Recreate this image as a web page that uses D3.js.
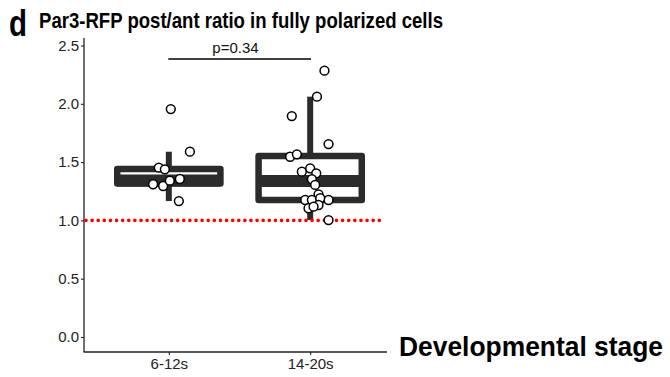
<!DOCTYPE html>
<html><head><meta charset="utf-8">
<script src="https://cdn.jsdelivr.net/npm/d3@7"></script>
<style>body{margin:0;background:#fff}svg{display:block}text{font-family:"Liberation Sans",Arial,sans-serif}</style>
</head><body><svg id="c" width="670" height="377"></svg>
<script>
// ---- data ----
const categories = ["6-12s", "14-20s"];
const yTicks = [0, 0.5, 1.0, 1.5, 2.0, 2.5];
const q1 = [1.316, 1.175];
const medians = [1.342, 1.338];
const q3 = [1.441, 1.552];
const whiskerLow = [1.166, 1.003];
const whiskerHigh = [1.589, 2.061];
const values612 = [1.955, 1.589, 1.452, 1.438, 1.310, 1.295, 1.341, 1.355, 1.166];
const jitter612 = [0.014, 0.149, -0.071, -0.028, -0.111, -0.040, 0.007, 0.078, 0.071];
const values1420 = [2.284, 2.061, 1.895, 1.655, 1.546, 1.567, 1.418, 1.447, 1.404, 1.353, 1.304, 1.224, 1.175, 1.175, 1.175, 1.190, 1.104, 1.132, 1.118, 1.003];
const jitter1420 = [0.101, 0.048, -0.130, 0.130, -0.142, -0.094, -0.059, 0.000, 0.043, 0.012, 0.035, 0.059, -0.035, 0.012, 0.130, 0.071, -0.012, 0.059, 0.024, 0.130];
const refValue = 1.0;
const pLabel = "p=0.34";
const titleText = "Par3-RFP post/ant ratio in fully polarized cells";
const panelLetter = "d";
const xTitle = "Developmental stage";

// ---- chart ----
const svg = d3.select("#c");
const dark = "#2b2b2b";
const y = d3.scaleLinear().domain([0, 2.5]).range([337, 45.5]);
const x = d3.scalePoint().domain(categories).range([84, 395]).padding(0.6);
const step = x.step();
const boxW = 0.73 * step;

// axes
const yAxis = svg.append("g").attr("transform", "translate(84,0)")
  .call(d3.axisLeft(y).tickValues(yTicks).tickFormat(d3.format(".1f")).tickSize(3).tickSizeOuter(0));
yAxis.select(".domain").remove();
yAxis.selectAll(".tick line").attr("stroke", "#222").attr("stroke-width", 1.1);
yAxis.selectAll(".tick text").attr("font-size", 15).attr("fill", "#222").attr("x", -5)
  .style("font-family", "Liberation Sans, Arial, sans-serif");
svg.append("line").attr("x1", 84).attr("x2", 84).attr("y1", 38).attr("y2", 352)
  .attr("stroke", "#222").attr("stroke-width", 1.3);

const xAxis = svg.append("g").attr("transform", "translate(0,352)")
  .call(d3.axisBottom(x).tickSize(3).tickSizeOuter(0));
xAxis.select(".domain").remove();
xAxis.selectAll(".tick line").attr("stroke", "#222").attr("stroke-width", 1.1);
xAxis.selectAll(".tick text").attr("font-size", 15).attr("fill", "#222").attr("y", 6)
  .style("font-family", "Liberation Sans, Arial, sans-serif");
svg.append("line").attr("x1", 83.5).attr("x2", 387).attr("y1", 352).attr("y2", 352)
  .attr("stroke", "#222").attr("stroke-width", 1.3);

// boxplots
const stats = categories.map((c, i) => ({c, q1: q1[i], med: medians[i], q3: q3[i], lo: whiskerLow[i], hi: whiskerHigh[i]}));
const bx = svg.append("g");
stats.forEach(s => {
  const cx = x(s.c);
  bx.append("line").attr("x1", cx).attr("x2", cx).attr("y1", y(s.q3)).attr("y2", y(s.hi))
    .attr("stroke", dark).attr("stroke-width", 6);
  bx.append("line").attr("x1", cx).attr("x2", cx).attr("y1", y(s.q1)).attr("y2", y(s.lo))
    .attr("stroke", dark).attr("stroke-width", 6);
  bx.append("rect").attr("x", cx - boxW / 2).attr("width", boxW)
    .attr("y", y(s.q3)).attr("height", y(s.q1) - y(s.q3))
    .attr("fill", "#fff").attr("stroke", dark).attr("stroke-width", 6.5).attr("stroke-linejoin", "round");
  bx.append("line").attr("x1", cx - boxW / 2).attr("x2", cx + boxW / 2).attr("y1", y(s.med)).attr("y2", y(s.med))
    .attr("stroke", dark).attr("stroke-width", 12);
});

// reference line
svg.append("line").attr("x1", 86).attr("x2", 384).attr("y1", y(refValue)).attr("y2", y(refValue))
  .attr("stroke", "#ff0000").attr("stroke-width", 3.6).attr("stroke-linecap", "round")
  .attr("stroke-dasharray", "0.01 6.1");

// points
const pts = [];
values612.forEach((v, i) => pts.push({c: categories[0], v, j: jitter612[i]}));
values1420.forEach((v, i) => pts.push({c: categories[1], v, j: jitter1420[i]}));
svg.append("g").selectAll("circle").data(pts).join("circle")
  .attr("cx", d => x(d.c) + d.j * step).attr("cy", d => y(d.v)).attr("r", 4.4)
  .attr("fill", "#fff").attr("stroke", "#000").attr("stroke-width", 1.5);

// significance bar
svg.append("line").attr("x1", 168.3).attr("x2", 311).attr("y1", 59).attr("y2", 59)
  .attr("stroke", "#000").attr("stroke-width", 1.6);
svg.append("text").attr("x", 235.5).attr("y", 53).attr("text-anchor", "middle")
  .attr("font-size", 15).attr("fill", "#111").text(pLabel);

// titles
svg.append("text").attr("x", 9).attr("y", 36).attr("font-size", 37).attr("font-weight", "bold")
  .attr("textLength", 18).attr("lengthAdjust", "spacingAndGlyphs").text(panelLetter);
svg.append("text").attr("x", 39).attr("y", 28).attr("font-size", 21.5).attr("font-weight", "bold")
  .attr("textLength", 404).attr("lengthAdjust", "spacingAndGlyphs").text(titleText);
svg.append("text").attr("x", 399).attr("y", 356).attr("font-size", 27).attr("font-weight", "bold")
  .attr("textLength", 264).attr("lengthAdjust", "spacingAndGlyphs").text(xTitle);
</script></body></html>
